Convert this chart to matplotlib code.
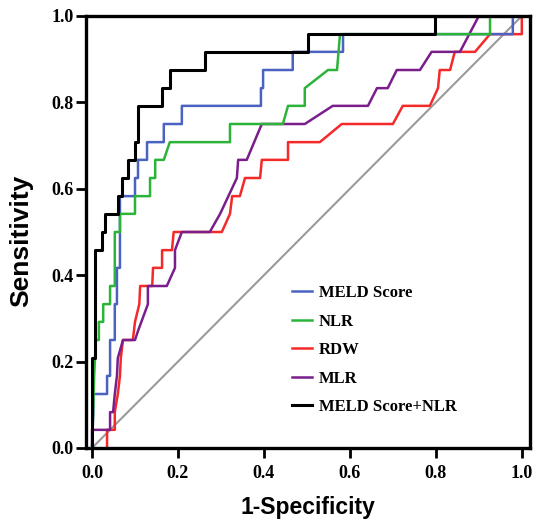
import matplotlib
matplotlib.use("Agg")
from matplotlib import pyplot as plt

# ROC curves (x = 1-specificity, y = sensitivity)
meld_x = [0.0, 0.003, 0.003, 0.035, 0.035, 0.042, 0.042, 0.053, 0.053, 0.058, 0.058, 0.065, 0.065,
          0.1, 0.1, 0.107, 0.107, 0.128, 0.128, 0.167, 0.167, 0.209, 0.209, 0.393, 0.393, 0.398, 0.398,
          0.467, 0.467, 0.584, 0.584, 0.979, 0.979, 1.0]
meld_y = [0.0, 0.083, 0.125, 0.125, 0.167, 0.167, 0.25, 0.25, 0.333, 0.333, 0.417, 0.417, 0.583,
          0.583, 0.625, 0.625, 0.667, 0.667, 0.708, 0.708, 0.75, 0.75, 0.792, 0.792, 0.833, 0.833, 0.875,
          0.875, 0.917, 0.917, 0.958, 0.958, 1.0, 1.0]

nlr_x = [0.0, 0.005, 0.009, 0.016, 0.016, 0.026, 0.026, 0.042, 0.042, 0.053, 0.053, 0.065, 0.065,
         0.1, 0.1, 0.135, 0.135, 0.147, 0.147, 0.167, 0.181, 0.321, 0.321, 0.444, 0.456, 0.495, 0.495,
         0.549, 0.57, 0.577, 0.926, 0.926, 1.0]
nlr_y = [0.0, 0.167, 0.25, 0.25, 0.292, 0.292, 0.333, 0.333, 0.375, 0.375, 0.5, 0.5, 0.542,
         0.542, 0.583, 0.583, 0.625, 0.625, 0.667, 0.667, 0.708, 0.708, 0.75, 0.75, 0.792, 0.792, 0.833,
         0.875, 0.875, 0.958, 0.958, 1.0, 1.0]

rdw_x = [0.035, 0.035, 0.053, 0.053, 0.06, 0.065, 0.067, 0.072, 0.095, 0.1, 0.11, 0.112, 0.14, 0.142,
         0.163, 0.163, 0.186, 0.19, 0.302, 0.321, 0.326, 0.344, 0.356, 0.391, 0.395, 0.456, 0.456,
         0.53, 0.581, 0.7, 0.723, 0.786, 0.805, 0.809, 0.833, 0.844, 0.891, 0.926, 1.0, 1.0]
rdw_y = [0.0, 0.042, 0.042, 0.083, 0.125, 0.167, 0.208, 0.25, 0.25, 0.292, 0.333, 0.375, 0.375, 0.417,
         0.417, 0.458, 0.458, 0.5, 0.5, 0.542, 0.583, 0.583, 0.625, 0.625, 0.667, 0.667, 0.708,
         0.708, 0.75, 0.75, 0.792, 0.792, 0.833, 0.875, 0.875, 0.917, 0.917, 0.958, 0.958, 1.0]

mlr_x = [0.0, 0.0, 0.042, 0.042, 0.049, 0.053, 0.058, 0.06, 0.072, 0.1, 0.107, 0.13, 0.13, 0.174,
         0.193, 0.193, 0.209, 0.274, 0.298, 0.337, 0.34, 0.36, 0.395, 0.495, 0.56, 0.642, 0.663,
         0.688, 0.709, 0.763, 0.79, 0.856, 0.9, 1.0]
mlr_y = [0.0, 0.042, 0.042, 0.083, 0.083, 0.125, 0.167, 0.208, 0.25, 0.25, 0.271, 0.333, 0.375, 0.375,
         0.417, 0.458, 0.5, 0.5, 0.542, 0.625, 0.667, 0.667, 0.75, 0.75, 0.792, 0.792, 0.833,
         0.833, 0.875, 0.875, 0.917, 0.917, 1.0, 1.0]

combo_x = [0.0, 0.0, 0.007, 0.007, 0.023, 0.023, 0.03, 0.03, 0.06, 0.06, 0.07, 0.07, 0.084, 0.084,
           0.1, 0.1, 0.107, 0.107, 0.163, 0.163, 0.181, 0.181, 0.263, 0.263, 0.502, 0.502, 0.798,
           0.798, 1.0]
combo_y = [0.0, 0.208, 0.208, 0.458, 0.458, 0.5, 0.5, 0.542, 0.542, 0.583, 0.583, 0.625, 0.625, 0.667,
           0.667, 0.708, 0.708, 0.792, 0.792, 0.833, 0.833, 0.875, 0.875, 0.917, 0.917, 0.958, 0.958,
           1.0, 1.0]

labels = ["MELD Score", "NLR", "RDW", "MLR", "MELD Score+NLR"]
ticks = [0.0, 0.2, 0.4, 0.6, 0.8, 1.0]

fig = plt.figure(figsize=(5.36, 5.2), dpi=100)
ax = fig.add_axes([86 / 536, (520 - 448) / 520, 444 / 536, 432 / 520])

ax.plot([0, 1], [0, 1], color="#9a9a9a", lw=1.5, zorder=1)
ax.plot(meld_x, meld_y, color="#4a62c0", lw=1.8, label=labels[0], zorder=3)
ax.plot(nlr_x, nlr_y, color="#2cb43a", lw=1.8, label=labels[1], zorder=3)
ax.plot(rdw_x, rdw_y, color="#f42a2a", lw=1.8, label=labels[2], zorder=2)
ax.plot(mlr_x, mlr_y, color="#7a1e8c", lw=1.8, label=labels[3], zorder=2)
ax.plot(combo_x, combo_y, color="black", lw=2.2, label=labels[4], zorder=4)

ax.set_xlim(-0.014, 1.019)
ax.set_ylim(0, 1.0)
ax.set_xticks(ticks)
ax.set_yticks(ticks)
ax.set_xticklabels([f"{t:.1f}" for t in ticks])
ax.set_yticklabels([f"{t:.1f}" for t in ticks])

tick_font = {"family": "Liberation Serif", "weight": "bold", "size": 13}
for lab in ax.get_xticklabels() + ax.get_yticklabels():
    lab.set_fontproperties(tick_font)
ax.tick_params(direction="out", length=7, width=2.0, color="black")
ax.tick_params(axis="x", pad=5)
ax.tick_params(axis="y", pad=2)
for sp in ax.spines.values():
    sp.set_linewidth(2.4)

ax.set_xlabel("1-Specificity", family="Liberation Sans", weight="bold", size=16.5, labelpad=10)
ax.set_ylabel("Sensitivity", family="Liberation Sans", weight="bold", size=19)
ax.yaxis.set_label_coords(-0.12, 0.479)

ax.legend(loc="upper left", bbox_to_anchor=(0.464, 0.377), frameon=False, borderpad=0,
          borderaxespad=0, handlelength=1.2, handletextpad=0.4, labelspacing=0.75,
          prop={"family": "Liberation Serif", "weight": "bold", "size": 12})

fig.savefig("out.png", dpi=100)
